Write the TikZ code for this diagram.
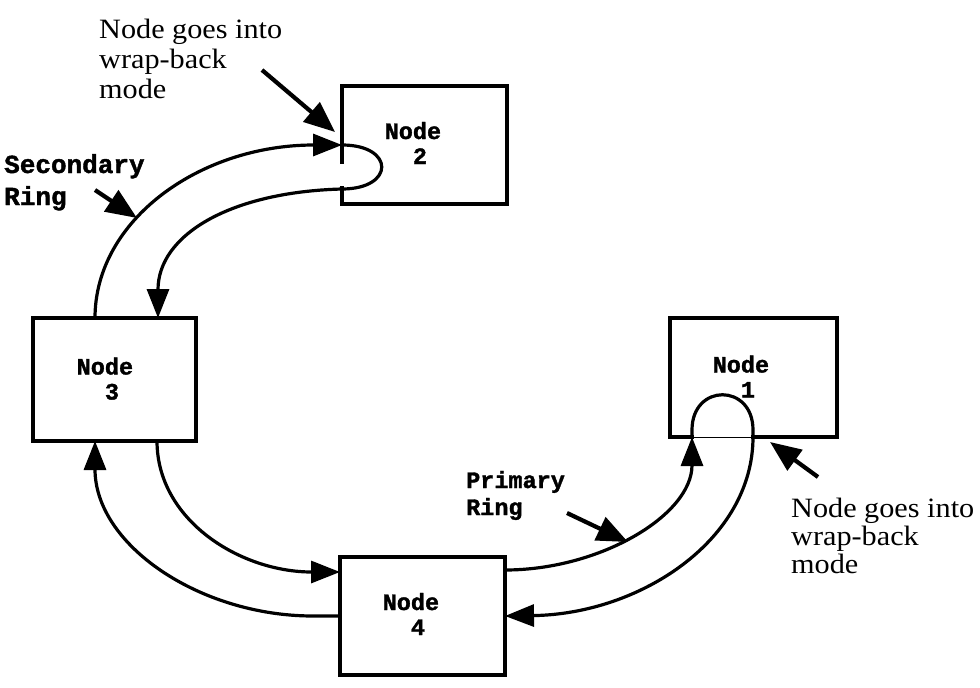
\documentclass[tikz,border=0pt]{standalone}
\usepackage{fontspec}
\setmainfont{Liberation Serif}
\newfontfamily\wbfont{Liberation Serif}[FakeStretch=1.08]
\newfontfamily\monof{Liberation Mono}[BoldFeatures={FakeBold=1.5}]
\usetikzlibrary{arrows.meta,calc}
\begin{document}
\begin{tikzpicture}[x=1pt,y=-1pt,
  box/.style={draw,rectangle,line width=3.8pt,inner sep=0pt,outer sep=0pt},
  ring/.style={line width=3.2pt},
  tip/.style={-{Triangle[length=29pt,width=22pt]}},
  pointer/.style={line width=4.2pt,-{Triangle[length=31pt,width=25pt]}},
  nodelab/.style={anchor=base west,inner sep=0pt,align=left,
    font=\monof\bfseries\fontsize{23.5}{25}\selectfont},
  seclab/.style={anchor=base west,inner sep=0pt,align=left,
    font=\monof\bfseries\fontsize{26}{32}\selectfont},
  prilab/.style={anchor=base west,inner sep=0pt,align=left,
    font=\monof\bfseries\fontsize{23.5}{27}\selectfont},
  wblab/.style={anchor=base west,inner sep=0pt,align=left,
    font=\wbfont\fontsize{28}{#1}\selectfont}]
\useasboundingbox[fill=white] (0,0) rectangle (980,688);

% boxes
\node[box,minimum width=165pt,minimum height=118pt] (n2) at (424.5,145) {};
\node[box,minimum width=163pt,minimum height=123pt] (n3) at (114.5,379.5) {};
\node[box,minimum width=167pt,minimum height=119pt] (n1) at (753.5,377.5) {};
\node[box,minimum width=165pt,minimum height=118pt] (n4) at (422.5,616) {};

% gaps in box borders where the rings wrap back
\draw[white,line width=5pt] ($(n2.west)+(0,19)$) -- ($(n2.west)+(0,41)$);
\draw[white,line width=5pt] ($(n1.south west)+(24,0)$) -- ($(n1.south west)+(81,0)$);
\draw[line width=0.8pt] ($(n1.south west)+(24,0)$) -- ($(n1.south west)+(81,0)$);

% node labels
\node[nodelab] (t2) at ($(n2.center)+(-40,19)$) {Node\\\hphantom{No}2};
\node[nodelab] (t3) at ($(n3.center)+(-38,20)$) {Node\\\hphantom{No}3};
\node[nodelab] (t4) at ($(n4.center)+(-40,19)$) {Node\\\hphantom{No}4};
\node[nodelab] (t1) at ($(n1.center)+(-41,20)$) {Node\\\hphantom{No}1};

% secondary ring
\draw[ring,tip] ($(n3.north west)+(62,0)$) .. controls (95,220) and (200,145) .. (n2.west);
\draw[ring] (n2.west) .. controls +(53,0) and +(53,0) .. ($(n2.west)+(0,44)$);
\draw[ring,tip] ($(n2.west)+(0,44)$) .. controls (230,192) and (158,235) .. ($(n3.north west)+(125,0)$);

% node 3 <-> node 4
\draw[ring,tip] ($(n3.south west)+(124,0)$) .. controls (157,520) and (240,572) .. ($(n4.west)+(0,-44)$);
\draw[ring,tip] (n4.west) -- ++(-27,0) .. controls (200,616) and (95,545) .. ($(n3.south west)+(62,0)$);

% primary ring
\draw[ring,tip] ($(n4.east)+(0,-46)$) .. controls (600,570) and (692,515) .. ($(n1.south west)+(22,0)$);
\draw[ring] ($(n1.south west)+(22,0)$) -- ++(0,-7) .. controls +(0,-47) and +(0,-47) .. ($(n1.south west)+(83,-7)$) -- ++(0,7);
\draw[ring,tip] ($(n1.south west)+(83,0)$) .. controls (753,540) and (640,614) .. (n4.east);

% annotations
\node[wblab=30] (w2) at (99,98) {Node goes into\\wrap-back\\mode};
\node[wblab=28] (w1) at (791,573) {Node goes into\\wrap-back\\mode};
\node[seclab] (sec) at (4,205) {Secondary\\Ring};
\node[prilab] (pri) at (466,515) {Primary\\Ring};

\coordinate (w2s) at (262,70);
\coordinate (w1s) at (818,477);
\coordinate (secs) at (95,190);
\coordinate (sece) at (137,218);
\coordinate (pris) at (567,513);
\coordinate (prie) at (628,542);
\draw[pointer] (w2s) -- ($(n2.west)+(-7,-13)$);
\draw[pointer] (w1s) -- ($(n1.south west)+(100,5)$);
\draw[pointer] (secs) -- (sece);
\draw[pointer] (pris) -- (prie);
\end{tikzpicture}
\end{document}
